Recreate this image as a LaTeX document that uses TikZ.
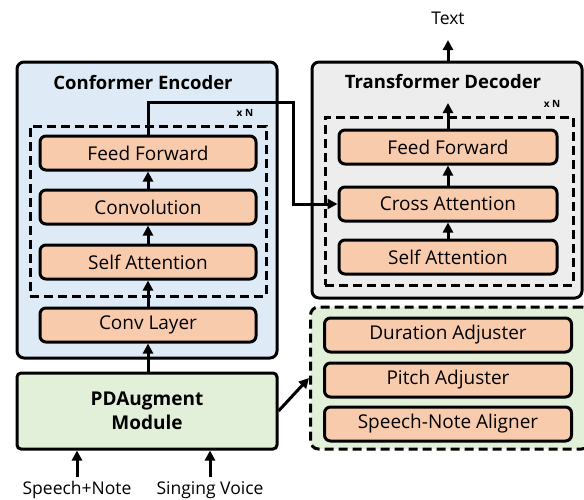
\documentclass[tikz,border=0pt]{standalone}
\usepackage{fontspec}
\setmainfont{Open Sans}
\usetikzlibrary{arrows.meta}

\definecolor{encblue}{HTML}{DEEBF7}
\definecolor{decgray}{HTML}{EDEDED}
\definecolor{augreen}{HTML}{E2F0D9}
\definecolor{blkorange}{HTML}{F8CBAD}

\tikzset{
  outerbox/.style={draw, line width=3pt, rounded corners=7pt},
  groupbox/.style={draw, line width=3pt, dash pattern=on 9pt off 5pt},
  layerbox/.style={draw, line width=3pt, rounded corners=6pt, fill=blkorange,
    minimum height=34pt, font=\fontsize{19}{22}\selectfont},
  titletext/.style={font=\fontsize{18.5}{21}\selectfont\bfseries},
  repeattext/.style={font=\fontsize{10}{12}\selectfont\bfseries},
  labeltext/.style={font=\fontsize{17.5}{20}\selectfont},
  flow/.style={line width=3pt, -{Triangle[length=10pt,width=10pt]}},
}

\begin{document}
\begin{tikzpicture}[x=1pt, y=-1pt]
  \useasboundingbox (0,0) rectangle (584,499);

  % encoder side
  \node (enc) at (147, 210) [outerbox, fill=encblue, minimum width=260pt, minimum height=296pt] {};
  \node (enctitle) at (143, 83) [titletext] {Conformer Encoder};
  \node (encgrp) at (148, 211) [groupbox, minimum width=236pt, minimum height=170pt] {};
  \node (encrep) at (245, 113) [repeattext] {x N};
  \node (eff) at (148, 153) [layerbox, minimum width=216pt] {Feed Forward};
  \node (ecv) at (148, 207) [layerbox, minimum width=216pt] {Convolution};
  \node (esa) at (148, 262) [layerbox, minimum width=216pt] {Self Attention};
  \node (ecl) at (148, 325) [layerbox, minimum width=216pt] {Conv Layer};

  % decoder side
  \node (dec) at (447, 180) [outerbox, fill=decgray, minimum width=270pt, minimum height=236pt] {};
  \node (dectitle) at (443, 82) [titletext] {Transformer Decoder};
  \node (decgrp) at (449, 201) [groupbox, minimum width=248pt, minimum height=168pt] {};
  \node (decrep) at (552, 104) [repeattext] {x N};
  \node (dff) at (448, 147) [layerbox, minimum width=218pt] {Feed Forward};
  \node (dca) at (448, 204) [layerbox, minimum width=218pt] {Cross Attention};
  \node (dsa) at (448, 257) [layerbox, minimum width=218pt] {Self Attention};
  \node (text) at (448, 18) [labeltext] {Text};
  \coordinate (textin) at (448, 40);
  \coordinate (decout) at (448, 103);

  % augment side
  \node (pda) at (147, 411) [outerbox, rounded corners=4pt, fill=augreen, minimum width=260pt, minimum height=76pt,
    align=center, font=\fontsize{19}{24}\selectfont\bfseries] {PDAugment\\Module};
  \node (aug) at (450, 378) [groupbox, rounded corners=8pt, fill=augreen, minimum width=279pt, minimum height=142pt] {};
  \node (dur) at (448, 335) [layerbox, minimum width=247pt] {Duration Adjuster};
  \node (pit) at (448, 380) [layerbox, minimum width=247pt] {Pitch Adjuster};
  \node (sna) at (448, 424) [layerbox, minimum width=247pt] {Speech-Note Aligner};

  % inputs
  \node (speech) at (77, 490) [labeltext] {Speech+Note};
  \node (sing) at (210, 490) [labeltext] {Singing Voice};
  \coordinate (speechin) at (77, 477);
  \coordinate (singin) at (210, 477);
  \coordinate (hop) at (293, 102);

  \draw[flow] (speechin) -- (speechin |- pda.south);
  \draw[flow] (singin) -- (singin |- pda.south);
  \draw[flow] (pda.north -| ecl) -- (ecl.south);
  \draw[flow] (ecl.north) -- (esa.south);
  \draw[flow] (esa.north) -- (ecv.south);
  \draw[flow] (ecv.north) -- (eff.south);
  \draw[flow] (eff.north) |- (hop) |- (dca.west);
  \draw[flow] (dsa.north) -- (dca.south);
  \draw[flow] (dca.north) -- (dff.south);
  \draw[flow] (dff.north) -- (decout);
  \draw[flow] (dec.north -| textin) -- (textin);
  \draw[flow] (pda.east) -- (aug.west);
\end{tikzpicture}
\end{document}
